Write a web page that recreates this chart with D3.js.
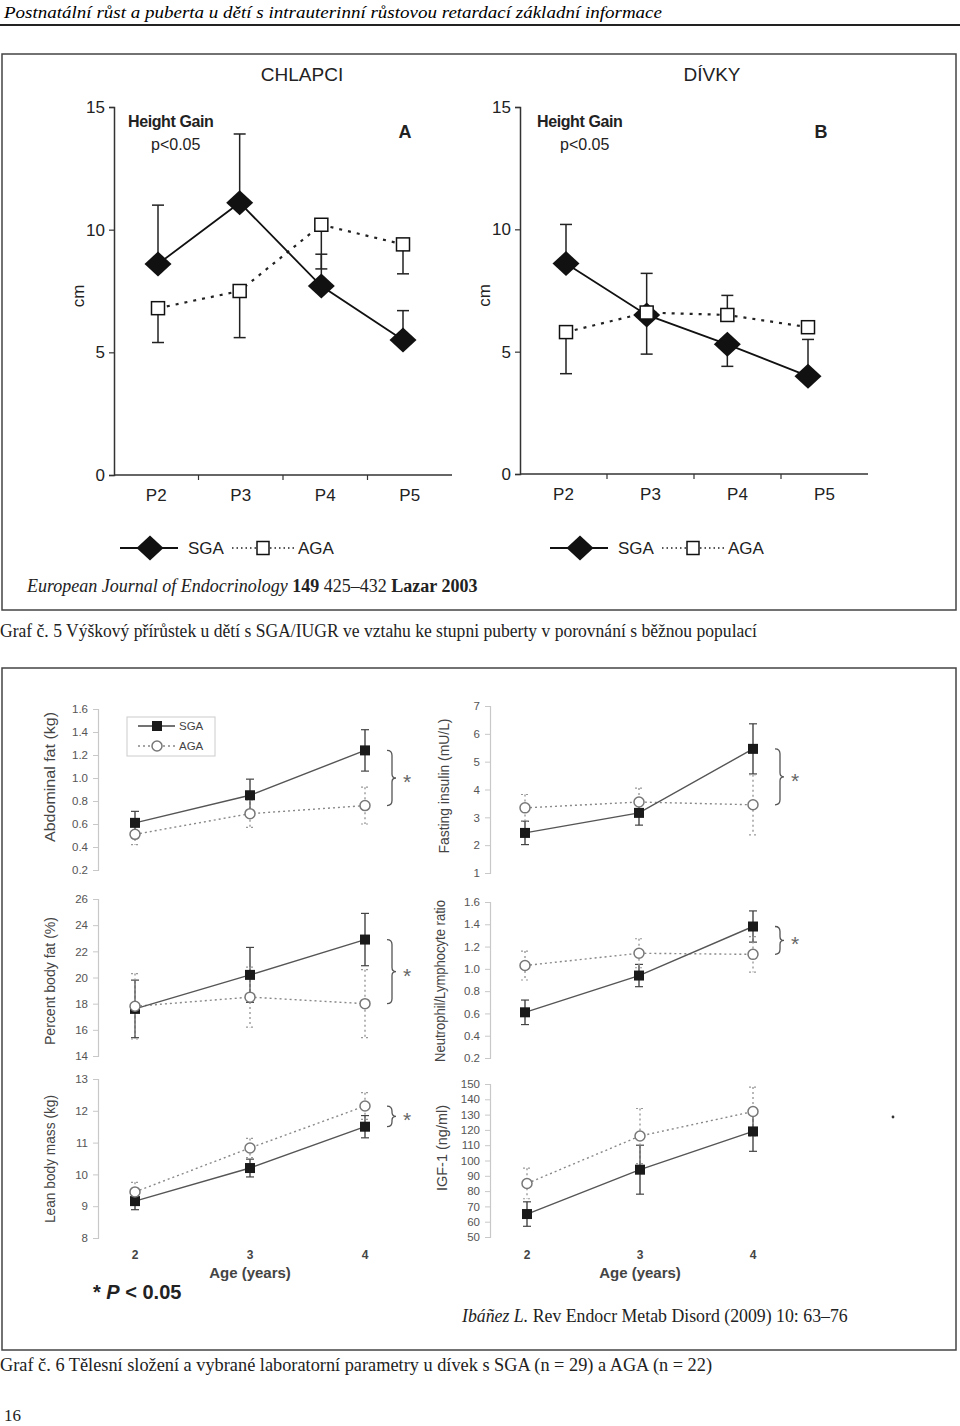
<!DOCTYPE html>
<html>
<head>
<meta charset="utf-8">
<script src="https://cdn.jsdelivr.net/npm/d3@7"></script>
<style>
body { margin: 0; background: #fff; }
svg { display: block; }
</style>
</head>
<body>
<div id="page"></div>
<script>
// ---- Graf 5: height gain by puberty stage (Lazar 2003) ----
const stages = ["P2", "P3", "P4", "P5"];
const boysSGA = [8.6, 11.1, 7.7, 5.5];
const boysSGAEnd = [11.0, 13.9, 9.0, 6.7];     // whisker ends
const boysAGA = [6.8, 7.5, 10.2, 9.4];
const boysAGAEnd = [5.4, 5.6, 8.4, 8.2];
const girlsSGA = [8.6, 6.5, 5.3, 4.0];
const girlsSGAEnd = [10.2, 8.2, 4.4, 5.5];
const girlsAGA = [5.8, 6.6, 6.5, 6.0];
const girlsAGAEnd = [4.1, 4.9, 7.3, null];
const cmTicks = [0, 5, 10, 15];

// ---- Graf 6: body composition and lab values, girls (Ibáñez 2009) ----
const ages = [2, 3, 4];
const abdFatSGA = [0.61, 0.85, 1.24], abdFatSGAse = [0.10, 0.14, 0.18];
const abdFatAGA = [0.51, 0.69, 0.76], abdFatAGAse = [0.09, 0.12, 0.16];
const insulinSGA = [2.44, 3.16, 5.46], insulinSGAse = [0.42, 0.44, 0.90];
const insulinAGA = [3.34, 3.55, 3.45], insulinAGAse = [0.48, 0.50, 1.08];
const bodyFatSGA = [17.6, 20.2, 22.9], bodyFatSGAse = [2.2, 2.1, 2.0];
const bodyFatAGA = [17.8, 18.5, 18.0], bodyFatAGAse = [2.5, 2.3, 2.6];
const nlrSGA = [0.61, 0.94, 1.38], nlrSGAse = [0.11, 0.10, 0.14];
const nlrAGA = [1.03, 1.14, 1.13], nlrAGAse = [0.13, 0.13, 0.16];
const leanSGA = [9.16, 10.2, 11.5], leanSGAse = [0.27, 0.28, 0.35];
const leanAGA = [9.45, 10.83, 12.15], leanAGAse = [0.30, 0.30, 0.42];
const igfSGA = [65, 94, 119], igfSGAse = [8, 16, 13];
const igfAGA = [85, 116, 132], igfAGAse = [10, 18, 16];

const abdFatTicks = [0.2, 0.4, 0.6, 0.8, 1.0, 1.2, 1.4, 1.6];
const insulinTicks = [1, 2, 3, 4, 5, 6, 7];
const bodyFatTicks = [14, 16, 18, 20, 22, 24, 26];
const nlrTicks = [0.2, 0.4, 0.6, 0.8, 1.0, 1.2, 1.4, 1.6];
const leanTicks = [8, 9, 10, 11, 12, 13];
const igfTicks = [50, 60, 70, 80, 90, 100, 110, 120, 130, 140, 150];

const SANS = "Arial, 'Liberation Sans', sans-serif";
const SERIF = "'Times New Roman', 'Liberation Serif', serif";

const svg = d3.select("#page").append("svg")
    .attr("width", 960)
    .attr("height", 1426);

// Running header
svg.append("text")
    .attr("x", 4).attr("y", 18)
    .attr("font-family", SERIF).attr("font-style", "italic").attr("font-size", 17)
    .attr("textLength", 658).attr("lengthAdjust", "spacingAndGlyphs")
    .text("Postnatální růst a puberta u dětí s intrauterinní růstovou retardací základní informace");
svg.append("line")
    .attr("x1", 0).attr("x2", 960).attr("y1", 25).attr("y2", 25)
    .attr("stroke", "#222").attr("stroke-width", 2);

// Frames
svg.append("rect").attr("x", 2).attr("y", 54).attr("width", 954).attr("height", 556)
    .attr("fill", "none").attr("stroke", "#444").attr("stroke-width", 1.5);
svg.append("rect").attr("x", 2).attr("y", 668).attr("width", 954).attr("height", 682)
    .attr("fill", "none").attr("stroke", "#444").attr("stroke-width", 1.5);

svg.append("text").attr("x", 302).attr("y", 81).attr("text-anchor", "middle")
    .attr("font-family", SANS).attr("font-size", 19).attr("fill", "#222").text("CHLAPCI");
svg.append("text").attr("x", 712).attr("y", 81).attr("text-anchor", "middle")
    .attr("font-family", SANS).attr("font-size", 19).attr("fill", "#222").text("DÍVKY");

const diamond = "M0,-12.5 L13.5,0 L0,12.5 L-13.5,0 Z";

function heightPanel(cfg) {
    const g = svg.append("g");
    const y = d3.scaleLinear().domain([0, 15]).range([cfg.yBottom, cfg.yTop]);
    const xb = d3.scaleBand().domain(stages).range([cfg.axisX, cfg.axisEnd]);
    const x = d3.scalePoint().domain(stages).range(cfg.pts);

    const ya = g.append("g")
        .attr("transform", `translate(${cfg.axisX},0)`)
        .call(d3.axisLeft(y).tickValues(cmTicks).tickSize(5).tickPadding(4));
    ya.select(".domain").attr("stroke", "#333").attr("stroke-width", 1.5);
    ya.selectAll(".tick line").attr("stroke", "#333").attr("stroke-width", 1.2);
    ya.selectAll(".tick text").attr("font-family", SANS).attr("font-size", 17).attr("fill", "#222");

    // x axis: base line, ticks between stages, labels
    g.append("line")
        .attr("x1", cfg.axisX).attr("x2", cfg.axisEnd)
        .attr("y1", y(0)).attr("y2", y(0))
        .attr("stroke", "#333").attr("stroke-width", 1.5);
    g.selectAll(".xt").data(stages.slice(1)).join("line")
        .attr("x1", d => xb(d)).attr("x2", d => xb(d))
        .attr("y1", y(0)).attr("y2", y(0) + 5)
        .attr("stroke", "#333").attr("stroke-width", 1.2);
    g.selectAll(".xl").data(stages).join("text")
        .attr("x", d => xb(d) + xb.bandwidth() / 2)
        .attr("y", y(0) + 26)
        .attr("text-anchor", "middle")
        .attr("font-family", SANS).attr("font-size", 17).attr("fill", "#222")
        .text(d => d);

    g.append("text")
        .attr("transform", `translate(${cfg.axisX - 30},${y(7.3)}) rotate(-90)`)
        .attr("text-anchor", "middle")
        .attr("font-family", SANS).attr("font-size", 17).attr("fill", "#222")
        .text("cm");

    // error bars (one-sided whiskers)
    const whiskers = (vals, ends) => stages.map((s, i) => ({ s, v: vals[i], e: ends[i] }))
        .filter(d => d.e !== null);
    [[cfg.aga, cfg.agaEnd], [cfg.sga, cfg.sgaEnd]].forEach(([vals, ends]) => {
        const w = whiskers(vals, ends);
        g.selectAll(null).data(w).join("line")
            .attr("x1", d => x(d.s)).attr("x2", d => x(d.s))
            .attr("y1", d => y(d.v)).attr("y2", d => y(d.e))
            .attr("stroke", "#222").attr("stroke-width", 1.5);
        g.selectAll(null).data(w).join("line")
            .attr("x1", d => x(d.s) - 6).attr("x2", d => x(d.s) + 6)
            .attr("y1", d => y(d.e)).attr("y2", d => y(d.e))
            .attr("stroke", "#222").attr("stroke-width", 1.5);
    });

    const line = d3.line().x((d, i) => x(stages[i])).y(d => y(d));
    g.append("path").attr("d", line(cfg.aga))
        .attr("fill", "none").attr("stroke", "#222").attr("stroke-width", 2.2)
        .attr("stroke-dasharray", "3,6");
    g.append("path").attr("d", line(cfg.sga))
        .attr("fill", "none").attr("stroke", "#111").attr("stroke-width", 1.8);

    g.selectAll(".dm").data(cfg.sga).join("path")
        .attr("d", diamond)
        .attr("transform", (d, i) => `translate(${x(stages[i])},${y(d)})`)
        .attr("fill", "#111");
    g.selectAll(".sq").data(cfg.aga).join("rect")
        .attr("x", (d, i) => x(stages[i]) - 6.5).attr("y", d => y(d) - 6.5)
        .attr("width", 13).attr("height", 13)
        .attr("fill", "#fff").attr("stroke", "#111").attr("stroke-width", 1.5);

    g.append("text").attr("x", cfg.titleX).attr("y", cfg.yTop + 20)
        .attr("font-family", SANS).attr("font-weight", "bold").attr("font-size", 16)
        .attr("fill", "#222").attr("letter-spacing", -0.4).text("Height Gain");
    g.append("text").attr("x", cfg.titleX + 23).attr("y", cfg.yTop + 43)
        .attr("font-family", SANS).attr("font-size", 16).attr("fill", "#222").text("p<0.05");
    g.append("text").attr("x", cfg.letterX).attr("y", cfg.yTop + 31)
        .attr("text-anchor", "middle")
        .attr("font-family", SANS).attr("font-weight", "bold").attr("font-size", 18)
        .attr("fill", "#222").text(cfg.letter);

    // legend under the panel
    const lg = g.append("g").attr("transform", `translate(${cfg.legendX},548)`);
    lg.append("line").attr("x1", -30).attr("x2", 28).attr("stroke", "#111").attr("stroke-width", 2);
    lg.append("path").attr("d", diamond).attr("fill", "#111");
    lg.append("text").attr("x", 38).attr("y", 6).attr("font-family", SANS).attr("font-size", 17)
        .attr("fill", "#222").text("SGA");
    lg.append("line").attr("x1", 82).attr("x2", 106).attr("stroke", "#222").attr("stroke-width", 1.5)
        .attr("stroke-dasharray", "1.5,3");
    lg.append("line").attr("x1", 120).attr("x2", 145).attr("stroke", "#222").attr("stroke-width", 1.5)
        .attr("stroke-dasharray", "1.5,3");
    lg.append("rect").attr("x", 107).attr("y", -6.5).attr("width", 12).attr("height", 13)
        .attr("fill", "#fff").attr("stroke", "#111").attr("stroke-width", 1.5);
    lg.append("text").attr("x", 148).attr("y", 6).attr("font-family", SANS).attr("font-size", 17)
        .attr("fill", "#222").text("AGA");
}

heightPanel({
    axisX: 114, axisEnd: 452, yTop: 107, yBottom: 475, pts: [158, 403],
    sga: boysSGA, sgaEnd: boysSGAEnd, aga: boysAGA, agaEnd: boysAGAEnd,
    titleX: 128, letterX: 405, letter: "A", legendX: 150
});
heightPanel({
    axisX: 520, axisEnd: 868, yTop: 107, yBottom: 474, pts: [566, 808],
    sga: girlsSGA, sgaEnd: girlsSGAEnd, aga: girlsAGA, agaEnd: girlsAGAEnd,
    titleX: 537, letterX: 821, letter: "B", legendX: 580
});

// Source + caption for Graf 5
const src5 = svg.append("text").attr("x", 27).attr("y", 592)
    .attr("font-family", SERIF).attr("font-size", 18).attr("fill", "#222");
src5.append("tspan").attr("font-style", "italic").text("European Journal of Endocrinology ");
src5.append("tspan").attr("font-weight", "bold").text("149 ");
src5.append("tspan").text("425–432 ");
src5.append("tspan").attr("font-weight", "bold").text("Lazar 2003");

svg.append("text").attr("x", 0).attr("y", 637)
    .attr("font-family", SERIF).attr("font-size", 19).attr("fill", "#222")
    .attr("textLength", 757).attr("lengthAdjust", "spacingAndGlyphs")
    .text("Graf č. 5 Výškový přírůstek u dětí s SGA/IUGR ve vztahu ke stupni puberty v porovnání s běžnou populací");

// ---- Graf 6 panels ----
function labPanel(p) {
    const g = svg.append("g");
    const y = d3.scaleLinear().domain(d3.extent(p.ticks)).range(p.range);
    const x = d3.scalePoint().domain(ages).range(p.pts);

    const ya = g.append("g")
        .attr("transform", `translate(${p.axisX},0)`)
        .call(d3.axisLeft(y).tickValues(p.ticks).tickSize(5).tickPadding(5)
            .tickFormat(d3.format(p.fmt)));
    ya.select(".domain").attr("stroke", "#c8c8c8").attr("stroke-width", 1.2);
    ya.selectAll(".tick line").attr("stroke", "#c8c8c8");
    ya.selectAll(".tick text").attr("font-family", SANS).attr("font-size", 11.5).attr("fill", "#555");

    g.append("text")
        .attr("transform", `translate(${p.labelX},${p.labelY}) rotate(-90)`)
        .attr("text-anchor", "middle")
        .attr("font-family", SANS).attr("font-size", 15).attr("fill", "#444")
        .attr("textLength", p.labelLen).attr("lengthAdjust", "spacingAndGlyphs")
        .text(p.label);

    const series = [
        { v: p.sga, se: p.sgaSe, stroke: "#444", dash: null },
        { v: p.aga, se: p.agaSe, stroke: "#999", dash: "2,3" }
    ];
    series.forEach(s => {
        const d = ages.map((a, i) => ({ a, v: s.v[i], se: s.se[i] }));
        g.selectAll(null).data(d).join("line")
            .attr("x1", e => x(e.a)).attr("x2", e => x(e.a))
            .attr("y1", e => y(e.v + e.se)).attr("y2", e => y(e.v - e.se))
            .attr("stroke", s.stroke).attr("stroke-width", 1.4).attr("stroke-dasharray", s.dash);
        [1, -1].forEach(sign => {
            g.selectAll(null).data(d).join("line")
                .attr("x1", e => x(e.a) - 4).attr("x2", e => x(e.a) + 4)
                .attr("y1", e => y(e.v + sign * e.se)).attr("y2", e => y(e.v + sign * e.se))
                .attr("stroke", s.stroke).attr("stroke-width", 1.2).attr("stroke-dasharray", s.dash);
        });
    });

    const line = d3.line().x((d, i) => x(ages[i])).y(d => y(d));
    g.append("path").attr("d", line(p.aga)).attr("fill", "none")
        .attr("stroke", "#888").attr("stroke-width", 1.4).attr("stroke-dasharray", "2,3");
    g.append("path").attr("d", line(p.sga)).attr("fill", "none")
        .attr("stroke", "#555").attr("stroke-width", 1.4);

    g.selectAll(".sq").data(p.sga).join("rect")
        .attr("x", (d, i) => x(ages[i]) - 5).attr("y", d => y(d) - 5)
        .attr("width", 10).attr("height", 10).attr("fill", "#1a1a1a");
    g.selectAll(".ci").data(p.aga).join("circle")
        .attr("cx", (d, i) => x(ages[i])).attr("cy", d => y(d)).attr("r", 5)
        .attr("fill", "#fff").attr("stroke", "#777").attr("stroke-width", 1.5);

    if (p.star) {
        const ya0 = Math.min(y(p.sga[2]), y(p.aga[2]));
        const yb0 = Math.max(y(p.sga[2]), y(p.aga[2]));
        const m = (ya0 + yb0) / 2;
        const bx = x(4) + 22;
        g.append("path")
            .attr("d", `M${bx},${ya0} Q${bx + 5},${ya0} ${bx + 5},${ya0 + 5} L${bx + 5},${m - 4}
                Q${bx + 5},${m} ${bx + 9},${m} Q${bx + 5},${m} ${bx + 5},${m + 4}
                L${bx + 5},${yb0 - 5} Q${bx + 5},${yb0} ${bx},${yb0}`)
            .attr("fill", "none").attr("stroke", "#555").attr("stroke-width", 1.3);
        g.append("text").attr("x", bx + 16).attr("y", m + 11)
            .attr("font-family", SANS).attr("font-size", 21).attr("fill", "#666").text("*");
    }

    if (p.xLabels) {
        g.selectAll(".xl").data(ages).join("text")
            .attr("x", d => x(d)).attr("y", 1259)
            .attr("text-anchor", "middle")
            .attr("font-family", SANS).attr("font-weight", "bold").attr("font-size", 12)
            .attr("fill", "#444").text(d => d);
        g.append("text").attr("x", (x(2) + x(4)) / 2).attr("y", 1278)
            .attr("text-anchor", "middle")
            .attr("font-family", SANS).attr("font-weight", "bold").attr("font-size", 15)
            .attr("fill", "#444").text("Age (years)");
    }

    if (p.legend) {
        const lg = g.append("g");
        lg.append("rect").attr("x", 127).attr("y", 717).attr("width", 88).attr("height", 39)
            .attr("fill", "none").attr("stroke", "#ccc");
        lg.append("line").attr("x1", 138).attr("x2", 175).attr("y1", 726).attr("y2", 726)
            .attr("stroke", "#444").attr("stroke-width", 1.3);
        lg.append("rect").attr("x", 152).attr("y", 721).attr("width", 10).attr("height", 10).attr("fill", "#1a1a1a");
        lg.append("text").attr("x", 179).attr("y", 730).attr("font-family", SANS).attr("font-size", 11.5)
            .attr("fill", "#444").text("SGA");
        lg.append("line").attr("x1", 138).attr("x2", 175).attr("y1", 746).attr("y2", 746)
            .attr("stroke", "#888").attr("stroke-width", 1.3).attr("stroke-dasharray", "2,3");
        lg.append("circle").attr("cx", 157).attr("cy", 746).attr("r", 5)
            .attr("fill", "#fff").attr("stroke", "#777").attr("stroke-width", 1.5);
        lg.append("text").attr("x", 179).attr("y", 750).attr("font-family", SANS).attr("font-size", 11.5)
            .attr("fill", "#444").text("AGA");
    }
}

const leftCol = { axisX: 98, pts: [135, 365], labelX: 55 };
const rightCol = { axisX: 490, pts: [525, 753], labelX: 449 };

labPanel({ ...leftCol, label: "Abdominal fat (kg)", labelY: 777, labelLen: 130, ticks: abdFatTicks, fmt: ".1f",
    range: [870, 709], sga: abdFatSGA, sgaSe: abdFatSGAse, aga: abdFatAGA, agaSe: abdFatAGAse, star: true, legend: true });
labPanel({ ...rightCol, label: "Fasting insulin (mU/L)", labelY: 786, labelLen: 135, ticks: insulinTicks, fmt: "d",
    range: [873, 706], sga: insulinSGA, sgaSe: insulinSGAse, aga: insulinAGA, agaSe: insulinAGAse, star: true });
labPanel({ ...leftCol, label: "Percent body fat (%)", labelY: 981, labelLen: 128, ticks: bodyFatTicks, fmt: "d",
    range: [1056, 899], sga: bodyFatSGA, sgaSe: bodyFatSGAse, aga: bodyFatAGA, agaSe: bodyFatAGAse, star: true });
labPanel({ ...rightCol, labelX: 445, label: "Neutrophil/Lymphocyte ratio", labelY: 981, labelLen: 162, ticks: nlrTicks, fmt: ".1f",
    range: [1058, 902], sga: nlrSGA, sgaSe: nlrSGAse, aga: nlrAGA, agaSe: nlrAGAse, star: true });
labPanel({ ...leftCol, label: "Lean body mass (kg)", labelY: 1159, labelLen: 128, ticks: leanTicks, fmt: "d",
    range: [1238, 1079], sga: leanSGA, sgaSe: leanSGAse, aga: leanAGA, agaSe: leanAGAse, star: true, xLabels: true });
labPanel({ ...rightCol, pts: [527, 753], labelX: 447, label: "IGF-1 (ng/ml)", labelY: 1148, labelLen: 86, ticks: igfTicks, fmt: "d",
    range: [1237, 1084], sga: igfSGA, sgaSe: igfSGAse, aga: igfAGA, agaSe: igfAGAse, star: false, xLabels: true });

// stray dot from the scan
svg.append("circle").attr("cx", 893).attr("cy", 1117).attr("r", 1.4).attr("fill", "#333");

const pNote = svg.append("text").attr("x", 93).attr("y", 1299)
    .attr("font-family", SANS).attr("font-weight", "bold").attr("font-size", 20).attr("fill", "#222");
pNote.append("tspan").text("* ");
pNote.append("tspan").attr("font-style", "italic").text("P");
pNote.append("tspan").text(" < 0.05");

const src6 = svg.append("text").attr("x", 462).attr("y", 1322)
    .attr("font-family", SERIF).attr("font-size", 17.8).attr("fill", "#222");
src6.append("tspan").attr("font-style", "italic").text("Ibáñez L.");
src6.append("tspan").text(" Rev Endocr Metab Disord (2009) 10: 63–76");

svg.append("text").attr("x", 0).attr("y", 1371)
    .attr("font-family", SERIF).attr("font-size", 19).attr("fill", "#222")
    .attr("textLength", 712).attr("lengthAdjust", "spacingAndGlyphs")
    .text("Graf č. 6 Tělesní složení a vybrané laboratorní parametry u dívek s SGA (n = 29) a AGA (n = 22)");

svg.append("text").attr("x", 4).attr("y", 1421)
    .attr("font-family", SERIF).attr("font-size", 17).attr("fill", "#222").text("16");
</script>
</body>
</html>
